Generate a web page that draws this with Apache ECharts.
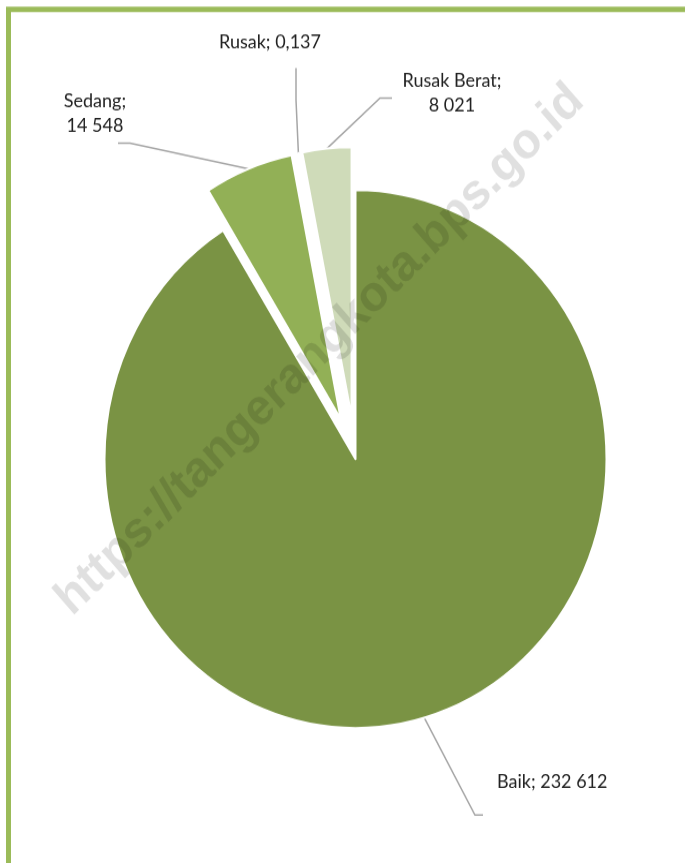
<!DOCTYPE html>
<html>
<head>
<meta charset="utf-8">
<script src="https://cdn.jsdelivr.net/npm/echarts@6/dist/echarts.min.js"></script>
<style>
  html, body { margin: 0; padding: 0; background: #fff; }
  #wrap { width: 685px; height: 863px; overflow: hidden; position: relative; }
  /* the original picture is stretched a little in height */
  #chart { width: 685px; height: 805px; transform: scaleY(1.072); transform-origin: 0 0; }
</style>
</head>
<body>
<div id="wrap"><div id="chart"></div></div>
<script>
// kondisi jalan (km)
const categories = ['Baik', 'Sedang', 'Rusak', 'Rusak Berat']
const values = [232612, 14548, 0.137, 8021]
const valueLabels = ['232 612', '14 548', '0,137', '8 021']
const colors = ['#7a9344', '#92b056', '#92b056', '#cfdbb9']
const exploded = [false, true, true, true]

const SY = 1.072
const R = 251
const OFFSET = 40
const CX = 355.5, CY = 459 / SY

// label boxes + leader line elbows, in screen px
const labelPos = [
  { x: 497, y: 782, align: 'left', line: [[475, 815], [483, 815]] },
  { x: 95, y: 113, align: 'center', line: [[130, 143], [118, 143]] },
  { x: 270, y: 42, align: 'center', line: [[296, 100], [296, 68]] },
  { x: 452, y: 93, align: 'center', line: [[380, 98], [392, 98]] }
]
const fy = y => y / SY

const labelStyle = {
  fontFamily: 'Lato, "Noto Sans", sans-serif',
  fontSize: 18,
  lineHeight: 23,
  color: '#222'
}
const lineStyle = { color: '#a6a6a6', width: 1.5 }

const layoutLabel = params => {
  const lp = labelPos[params.dataIndex]
  const pts = params.labelLinePoints
  if (!pts) return {}
  return {
    x: lp.x,
    y: fy(lp.y),
    align: lp.align,
    verticalAlign: 'middle',
    labelLinePoints: [pts[0], [lp.line[0][0], fy(lp.line[0][1])], [lp.line[1][0], fy(lp.line[1][1])]]
  }
}
const fmt = p => p.dataIndex === 1 || p.dataIndex === 3
  ? p.name + ';\n' + valueLabels[p.dataIndex]
  : p.name + '; ' + valueLabels[p.dataIndex]

const chart = echarts.init(document.getElementById('chart'))

chart.setOption({
  animation: false,
  backgroundColor: '#fff',
  graphic: [
    {
      type: 'rect',
      shape: { x: 8.5, y: 8.85, width: 720, height: 900 },
      style: { fill: 'none', stroke: '#9bbb59', lineWidth: 5 },
      z: 1
    },
    {
      type: 'text',
      x: 320,
      y: fy(350),
      rotation: 43 * Math.PI / 180,
      style: {
        text: 'https://tangerangkota.bps.go.id',
        font: 'bold 47px "Liberation Sans", Arial, sans-serif',
        fill: 'rgba(0,0,0,0.12)',
        align: 'center',
        verticalAlign: 'middle'
      },
      z: 100
    }
  ],
  series: [
    {
      // slices
      type: 'pie',
      center: [CX, CY],
      radius: R,
      startAngle: 90,
      clockwise: true,
      selectedMode: 'multiple',
      selectedOffset: OFFSET,
      emphasis: { disabled: true },
      itemStyle: { borderColor: '#fff', borderWidth: 2 },
      label: Object.assign({ show: true, formatter: fmt }, labelStyle),
      labelLine: { show: true, lineStyle: lineStyle },
      labelLayout: layoutLabel,
      data: categories.map((name, i) => ({
        name: name,
        value: values[i],
        selected: exploded[i],
        itemStyle: { color: colors[i] },
        label: { show: !exploded[i] },
        labelLine: { show: !exploded[i] }
      }))
    },
    {
      // labels of the pulled-out slices
      type: 'pie',
      center: [CX, CY],
      radius: R + OFFSET,
      startAngle: 90,
      clockwise: true,
      silent: true,
      emphasis: { disabled: true },
      itemStyle: { color: 'rgba(0,0,0,0)', borderWidth: 0 },
      label: Object.assign({ show: true, formatter: fmt }, labelStyle),
      labelLine: { show: true, lineStyle: lineStyle },
      labelLayout: layoutLabel,
      data: categories.map((name, i) => ({
        name: name,
        value: values[i],
        label: { show: exploded[i] },
        labelLine: { show: exploded[i] }
      }))
    }
  ]
})
</script>
</body>
</html>
